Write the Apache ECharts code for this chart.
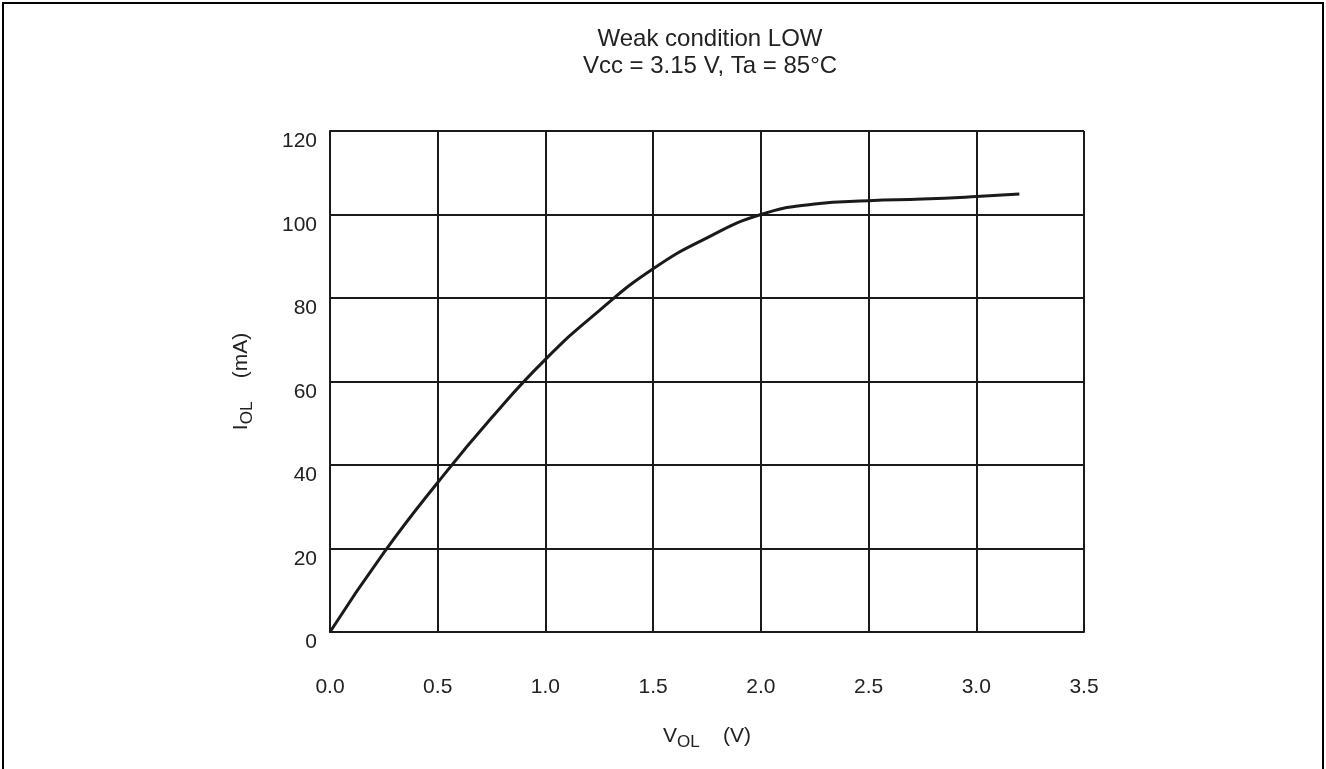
<!DOCTYPE html>
<html>
<head>
<meta charset="utf-8">
<script src="https://cdn.jsdelivr.net/npm/echarts@6/dist/echarts.min.js"></script>
<style>
html,body{margin:0;padding:0;background:#fff;}
#c{width:1326px;height:769px;}
</style>
</head>
<body>
<div id="c"></div>
<script>
// Data
const voltage = [0, 0.25, 0.5, 0.75, 1.0, 1.25, 1.5, 1.75, 2.0, 2.25, 2.5, 2.75, 3.0, 3.2];
const current = [0, 19, 35.8, 51.3, 65.3, 77, 87, 94.4, 100, 102.5, 103.3, 103.7, 104.3, 104.9];
const titleLines = ['Weak condition LOW', 'Vcc = 3.15 V, Ta = 85°C'];

const FONT = '"Liberation Sans", Arial, sans-serif';
const chart = echarts.init(document.getElementById('c'));
chart.setOption({
  animation: false,
  backgroundColor: '#fff',
  title: {
    text: titleLines.join('\n'),
    left: 705,
    textAlign: 'center',
    top: 21,
    textStyle: {fontFamily: FONT, fontSize: 24, fontWeight: 'normal', color: '#222', lineHeight: 27}
  },
  graphic: [{
    type: 'rect',
    shape: {x: 3, y: 3, width: 1320, height: 820},
    style: {fill: 'none', stroke: '#000', lineWidth: 2},
    silent: true
  }],
  grid: {left: 330, right: 242, top: 131, bottom: 137, containLabel: false},
  xAxis: {
    type: 'value', min: 0, max: 3.5, interval: 0.5,
    name: '{n|V}{s|OL}{n|    (V)}',
    nameLocation: 'middle', nameGap: 90,
    nameTextStyle: {
      rich: {
        n: {fontFamily: FONT, fontSize: 21, color: '#222'},
        s: {fontFamily: FONT, fontSize: 17, color: '#222', verticalAlign: 'bottom', padding: [12, 0, 0, 0]}
      }
    },
    axisLine: {show: true, lineStyle: {color: '#1a1a1a', width: 2}},
    axisTick: {show: false},
    axisLabel: {margin: 45, fontFamily: FONT, fontSize: 21, color: '#222', formatter: v => v.toFixed(1)},
    splitLine: {show: true, lineStyle: {color: '#1a1a1a', width: 2}}
  },
  yAxis: {
    type: 'value', min: 0, max: 120, interval: 20,
    name: '{n|I}{s|OL}{n|    (mA)}',
    nameLocation: 'middle', nameGap: 74, nameRotate: 90,
    nameTextStyle: {
      rich: {
        n: {fontFamily: FONT, fontSize: 21, color: '#222'},
        s: {fontFamily: FONT, fontSize: 17, color: '#222', verticalAlign: 'bottom', padding: [12, 0, 0, 0]}
      }
    },
    axisLine: {show: true, lineStyle: {color: '#1a1a1a', width: 2}},
    axisTick: {show: false},
    axisLabel: {margin: 13, fontFamily: FONT, fontSize: 21, color: '#222', verticalAlign: 'top'},
    splitLine: {show: true, lineStyle: {color: '#1a1a1a', width: 2}}
  },
  series: [{
    type: 'line',
    data: voltage.map((v, i) => [v, current[i]]),
    smooth: 0.5,
    showSymbol: false,
    lineStyle: {color: '#1a1a1a', width: 3},
    z: 5
  }]
});
</script>
</body>
</html>
